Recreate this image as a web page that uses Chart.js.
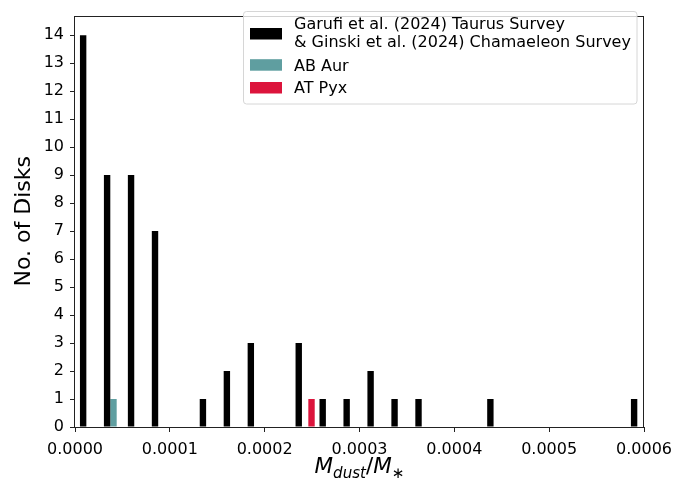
<!DOCTYPE html>
<html>
<head>
<meta charset="utf-8">
<title>Dust-to-star mass ratio histogram</title>
<script src="https://cdn.jsdelivr.net/npm/chart.js@4.4.1/dist/chart.umd.min.js"></script>
<style>
  html, body { margin: 0; padding: 0; background: #ffffff; }
  canvas { display: block; }
</style>
</head>
<body>
<canvas id="histChart" width="700" height="484"></canvas>
<script>
// Histogram bins (Mdust / M*)
const binLeft = 0.0000027;
const binWidth = 0.00002526;

// Disk counts per bin
const surveyCounts = [14, 9, 9, 7, 0, 1, 2, 3, 0, 3, 1, 1, 2, 1, 1, 0, 0, 1, 0, 0, 0, 0, 0, 1];
const abAurCounts  = [0, 1, 0, 0, 0, 0, 0, 0, 0, 0, 0, 0, 0, 0, 0, 0, 0, 0, 0, 0, 0, 0, 0, 0];
const atPyxCounts  = [0, 0, 0, 0, 0, 0, 0, 0, 0, 1, 0, 0, 0, 0, 0, 0, 0, 0, 0, 0, 0, 0, 0, 0];

const seriesLabels = [
    'Garufi et al. (2024) Taurus Survey\n& Ginski et al. (2024) Chamaeleon Survey',
    'AB Aur',
    'AT Pyx'
];
const xTicks = [0, 0.0001, 0.0002, 0.0003, 0.0004, 0.0005, 0.0006];
const yTicks = [0, 1, 2, 3, 4, 5, 6, 7, 8, 9, 10, 11, 12, 13, 14];

const FONT = "'DejaVu Sans', sans-serif";

function toPoints(counts) {
    return counts.map((c, i) => ({ x: binLeft + (i + 0.5) * binWidth, y: c }));
}

// frame around the plot area (all four sides)
const framePlugin = {
    id: 'frame',
    afterDraw(chart) {
        const { ctx, chartArea: a } = chart;
        ctx.save();
        ctx.strokeStyle = '#222';
        ctx.lineWidth = 1;
        ctx.strokeRect(Math.round(a.left) - 0.5, Math.round(a.top) + 0.5,
            Math.round(a.right - a.left), Math.round(a.bottom - a.top));
        ctx.restore();
    }
};

// legend with multi-line labels, drawn from the datasets
const boxLegend = {
    id: 'boxLegend',
    afterDraw(chart, args, opts) {
        const ctx = chart.ctx;
        const [bx, by, bw, bh] = opts.box;
        ctx.save();
        ctx.beginPath();
        ctx.roundRect(bx, by, bw, bh, 3);
        ctx.fillStyle = 'rgba(255,255,255,0.8)';
        ctx.fill();
        ctx.strokeStyle = '#d6d6d6';
        ctx.lineWidth = 1;
        ctx.stroke();

        ctx.font = opts.fontSize + 'px ' + FONT;
        ctx.textAlign = 'left';
        ctx.textBaseline = 'alphabetic';
        chart.data.datasets.forEach((ds, i) => {
            ctx.fillStyle = ds.backgroundColor;
            ctx.fillRect(opts.swatchX, opts.swatchTops[i], opts.swatchW, opts.swatchH);
            ctx.fillStyle = '#000';
            ds.label.split('\n').forEach((line, k) => {
                ctx.fillText(line, opts.textX, opts.baselines[i][k]);
            });
        });
        ctx.restore();
    }
};

// x axis title: M_dust / M_*
const massTitle = {
    id: 'massTitle',
    afterDraw(chart, args, opts) {
        const ctx = chart.ctx;
        const big = opts.size, small = Math.round(opts.size * 0.7 * 10) / 10;
        const parts = [
            { t: 'M', f: 'italic ' + big + 'px ' + FONT, dy: 0 },
            { t: 'dust', f: 'italic ' + small + 'px ' + FONT, dy: opts.subShift },
            { t: '/', f: big + 'px ' + FONT, dy: 0 },
            { t: 'M', f: 'italic ' + big + 'px ' + FONT, dy: 0 },
            { t: '\u2217', f: small + 'px ' + FONT, dy: opts.subShift }
        ];
        ctx.save();
        let total = 0;
        parts.forEach(p => { ctx.font = p.f; p.w = ctx.measureText(p.t).width; total += p.w; });
        const a = chart.chartArea;
        let x = (a.left + a.right) / 2 - total / 2;
        ctx.fillStyle = '#000';
        ctx.textBaseline = 'alphabetic';
        ctx.textAlign = 'left';
        parts.forEach(p => {
            ctx.font = p.f;
            ctx.fillText(p.t, x, opts.baseline + p.dy);
            x += p.w;
        });
        ctx.restore();
    }
};

const ctx = document.getElementById('histChart').getContext('2d');
new Chart(ctx, {
    type: 'bar',
    data: {
        datasets: [{
            label: seriesLabels[0],
            data: toPoints(surveyCounts),
            backgroundColor: '#000000'
        }, {
            label: seriesLabels[1],
            data: toPoints(abAurCounts),
            backgroundColor: '#5f9ea0'
        }, {
            label: seriesLabels[2],
            data: toPoints(atPyxCounts),
            backgroundColor: '#dc143c'
        }]
    },
    options: {
        responsive: false,
        animation: false,
        devicePixelRatio: 1,
        layout: { padding: { top: 3, right: 56, left: 0, bottom: 0 } },
        datasets: {
            bar: { categoryPercentage: 0.8, barPercentage: 1.0, borderWidth: 0 }
        },
        scales: {
            x: {
                type: 'linear',
                min: 0,
                max: 0.0006,
                offset: false,
                afterFit(scale) { scale.height = 57; },
                afterBuildTicks(scale) { scale.ticks = xTicks.map(v => ({ value: v })); },
                border: { display: false },
                grid: { offset: false, drawOnChartArea: false, drawTicks: true, tickLength: 5, tickColor: '#222', tickWidth: 1 },
                ticks: {
                    autoSkip: false,
                    maxRotation: 0,
                    padding: 8,
                    color: '#000',
                    font: { family: FONT, size: 16 },
                    callback: v => v.toFixed(4)
                }
            },
            y: {
                min: 0,
                max: 14.7,
                afterFit(scale) { scale.width = 75; },
                afterBuildTicks(scale) { scale.ticks = yTicks.map(v => ({ value: v })); },
                border: { display: false },
                grid: { drawOnChartArea: false, drawTicks: true, tickLength: 5, tickColor: '#222', tickWidth: 1 },
                ticks: {
                    padding: 6,
                    color: '#000',
                    font: { family: FONT, size: 16 }
                },
                title: {
                    display: true,
                    text: 'No. of Disks',
                    color: '#000',
                    font: { family: FONT, size: 22 },
                    padding: { top: 11, bottom: 0 }
                }
            }
        },
        plugins: {
            legend: { display: false },
            tooltip: { enabled: false },
            boxLegend: {
                box: [243.5, 11.5, 393.5, 92.5],
                fontSize: 16,
                swatchX: 250,
                swatchW: 32,
                swatchH: 11.5,
                textX: 294,
                swatchTops: [28, 59.2, 82],
                baselines: [[28.7, 47], [70.7], [93.2]]
            },
            massTitle: { size: 21.5, baseline: 473, subShift: 4.5 }
        }
    },
    plugins: [framePlugin, boxLegend, massTitle]
});
</script>
</body>
</html>
